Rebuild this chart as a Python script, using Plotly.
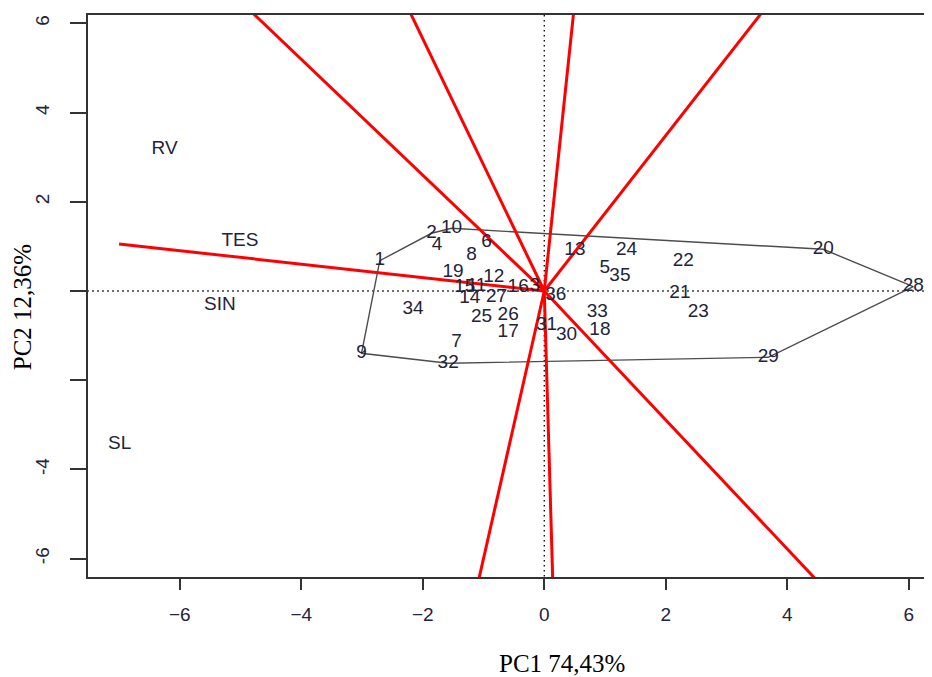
import plotly.graph_objects as go

# Genotype scores (PC1, PC2)
geno_labels = [str(i) for i in range(1, 37)]
geno_pc1 = [-2.707, -1.856, -0.155, -1.764, 0.998, -0.950, -1.444, -1.197, -3.008, -1.526,
            -1.115, -0.830, 0.504, -1.225, -1.307, -0.430, -0.594, 0.916, -1.500, 4.592,
            2.233, 2.287, 2.534, 1.355, -1.032, -0.594, -0.785, 6.074, 3.687, 0.367,
            0.038, -1.582, 0.874, -2.159, 1.245, 0.191]
geno_pc2 = [0.679, 1.294, 0.112, 1.016, 0.509, 1.092, -1.159, 0.807, -1.397, 1.406,
            0.096, 0.298, 0.904, -0.164, 0.083, 0.083, -0.935, -0.874, 0.410, 0.935,
            -0.052, 0.657, -0.487, 0.904, -0.590, -0.538, -0.141, 0.096, -1.487, -0.987,
            -0.778, -1.621, -0.482, -0.404, 0.336, -0.090]

# Environment scores
env_labels = ["RV", "TES", "SIN", "SL"]
env_pc1 = [-6.25, -5.01, -5.34, -6.99]
env_pc2 = [3.18, 1.12, -0.33, -3.44]

# Convex hull (which-won-where polygon) vertex genotypes, in order
hull_order = ["10", "20", "28", "29", "32", "9", "1", "2", "10"]

# Sector rays from origin (end points)
ray_end_x = [-4.765, -2.188, 0.479, 3.550, -6.999, -1.069, 0.138, 4.434]
ray_end_y = [6.188, 6.188, 6.188, 6.188, 1.054, -6.413, -6.413, -6.413]
ray_reaches_edge = [True, True, True, True, False, True, True, True]

x_ticks = [-6, -4, -2, 0, 2, 4, 6]
x_ticktext = ["\u22126", "\u22124", "\u22122", "0", "2", "4", "6"]
y_ticks = [6, 4, 2, 0, -2, -4, -6]
y_ticktext = ["6", "4", "2", "", "", "-4", "-6"]

x_title = "PC1 74,43%"
y_title = "PC2 12,36%"

XR = [-7.51, 6.382]
YR = [-6.413, 6.188]

TXT = "#23233a"
FONT = "Liberation Sans"
FS = 19

fig = go.Figure()

# dotted reference lines
for xs, ys in (([XR[0] - 1, XR[1] + 1], [0, 0]), ([0, 0], [YR[0] - 1, YR[1] + 1])):
    fig.add_trace(go.Scatter(x=xs, y=ys, mode="lines",
                             line=dict(color="#000000", width=1.3, dash="1.5px,3.5px"),
                             hoverinfo="skip", showlegend=False))

# polygon
idx = {lab: i for i, lab in enumerate(geno_labels)}
fig.add_trace(go.Scatter(x=[geno_pc1[idx[l]] for l in hull_order],
                         y=[geno_pc2[idx[l]] for l in hull_order],
                         mode="lines", line=dict(color="#4d4d4d", width=1.4),
                         hoverinfo="skip", showlegend=False))

# rays
for ex, ey, edge in zip(ray_end_x, ray_end_y, ray_reaches_edge):
    f = 1.08 if edge else 1.0
    fig.add_trace(go.Scatter(x=[0, ex * f], y=[0, ey * f], mode="lines",
                             line=dict(color="#ff0000", width=3),
                             hoverinfo="skip", showlegend=False))

# genotype labels
fig.add_trace(go.Scatter(x=geno_pc1, y=geno_pc2, text=geno_labels, mode="text",
                         textposition="middle center",
                         textfont=dict(family=FONT, size=FS, color=TXT),
                         hoverinfo="skip", showlegend=False, cliponaxis=False))
# environment labels
fig.add_trace(go.Scatter(x=env_pc1, y=env_pc2, text=env_labels, mode="text",
                         textposition="middle center",
                         textfont=dict(family=FONT, size=FS, color=TXT),
                         hoverinfo="skip", showlegend=False))

# page body has an 8px margin: size the figure so the plot lands where the reference has it
fig.update_layout(
    width=924, height=669,
    margin=dict(l=80, r=0, t=7, b=100),
    paper_bgcolor="white", plot_bgcolor="white",
    showlegend=False,
    xaxis=dict(range=XR, tickvals=x_ticks, ticktext=x_ticktext,
               showgrid=False, zeroline=False, showline=True, mirror=True,
               linecolor="#333", linewidth=1.5, ticks="outside", ticklen=11,
               tickwidth=1.5, tickcolor="#333", ticklabelstandoff=8,
               tickfont=dict(family=FONT, size=FS, color=TXT)),
    yaxis=dict(range=YR, tickvals=y_ticks, ticktext=y_ticktext,
               showgrid=False, zeroline=False, showline=True, mirror=False,
               linecolor="#333", linewidth=1.5, ticks="outside", ticklen=16,
               tickwidth=1.5, tickcolor="#333", tickangle=-90, ticklabelstandoff=14,
               tickfont=dict(family=FONT, size=FS, color=TXT)),
    annotations=[
        dict(text=x_title, xref="paper", yref="paper", x=(562 - 88) / 844, y=0,
             xanchor="center", yanchor="middle", yshift=-86, showarrow=False,
             font=dict(family="Liberation Serif", size=25, color="black")),
        dict(text=y_title, xref="paper", yref="paper", x=0, y=0.48,
             xanchor="center", yanchor="middle", xshift=-66, textangle=-90,
             showarrow=False,
             font=dict(family="Liberation Serif", size=25, color="black")),
    ],
)

fig.write_html("out.html")
